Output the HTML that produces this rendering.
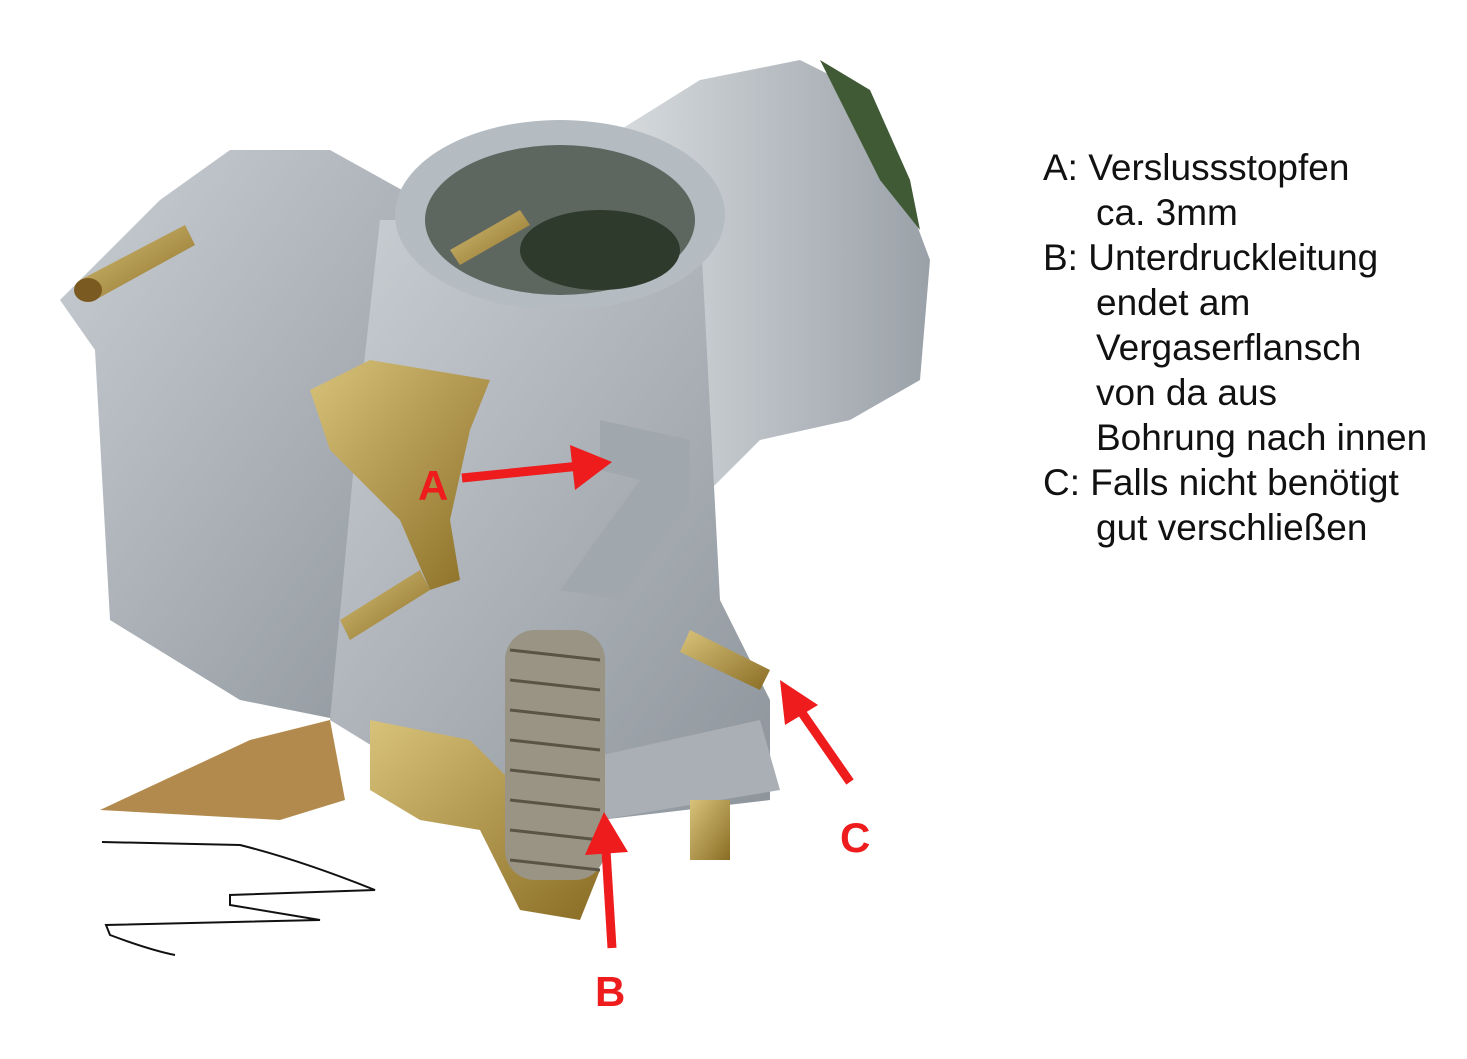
<!DOCTYPE html>
<html><head><meta charset="utf-8"><style>
html,body{margin:0;padding:0;background:#fff;}
body{width:1467px;height:1059px;position:relative;overflow:hidden;font-family:"Liberation Sans",sans-serif;}
.t{position:absolute;left:1043px;font-size:37px;color:#111;line-height:45px;top:145px;white-space:pre;}
.t div.i{padding-left:53px;}
</style></head><body>
<svg width="1467" height="1059" style="position:absolute;left:0;top:0">
<defs>
<linearGradient id="g1" x1="0" y1="0" x2="1" y2="1"><stop offset="0" stop-color="#c9ced3"/><stop offset="1" stop-color="#8d949b"/></linearGradient>
<linearGradient id="g2" x1="0" y1="0" x2="1" y2="0"><stop offset="0" stop-color="#d6dadd"/><stop offset="1" stop-color="#9aa1a8"/></linearGradient>
<linearGradient id="gold" x1="0" y1="0" x2="1" y2="1"><stop offset="0" stop-color="#d8c27a"/><stop offset="1" stop-color="#8a6d25"/></linearGradient>
</defs>
<path d="M60 300 L160 200 L230 150 L330 150 L420 200 L470 330 L460 700 L340 720 L240 700 L110 620 L95 350 Z" fill="url(#g1)"/>
<path d="M620 130 L700 80 L800 60 L860 90 L900 180 L930 260 L920 380 L850 420 L760 440 L700 500 L640 450 Z" fill="url(#g2)"/>
<path d="M820 60 L870 90 L910 180 L920 230 L880 180 Z" fill="#3f5a35"/>
<path d="M380 220 L700 220 L720 600 L770 700 L770 800 L600 820 L460 800 L330 720 L360 400 Z" fill="url(#g1)"/>
<ellipse cx="560" cy="215" rx="165" ry="95" fill="#b4bbc1"/>
<ellipse cx="560" cy="220" rx="135" ry="75" fill="#5e6660"/>
<ellipse cx="600" cy="250" rx="80" ry="40" fill="#2d3a2c"/>
<path d="M450 250 L520 210 L530 225 L460 265 Z" fill="url(#gold)"/>
<path d="M580 760 L760 720 L780 790 L600 820 Z" fill="#a9afb5"/>
<path d="M80 280 L185 225 L195 245 L95 300 Z" fill="url(#gold)"/>
<ellipse cx="88" cy="290" rx="14" ry="12" fill="#7a5a20"/>
<path d="M690 630 L770 670 L760 690 L680 652 Z" fill="url(#gold)"/>
<path d="M340 620 L420 570 L430 590 L350 640 Z" fill="url(#gold)"/>
<path d="M310 390 L370 360 L490 380 L470 430 L450 520 L460 580 L430 590 L400 520 L330 450 Z" fill="url(#gold)"/>
<path d="M370 720 L470 740 L520 790 L600 870 L580 920 L520 910 L480 830 L420 820 L370 790 Z" fill="url(#gold)"/>
<rect x="505" y="630" width="100" height="250" rx="30" fill="#9a9484"/>
<g stroke="#5a5446" stroke-width="3">
<line x1="510" y1="650" x2="600" y2="660"/><line x1="510" y1="680" x2="600" y2="690"/><line x1="510" y1="710" x2="600" y2="720"/><line x1="510" y1="740" x2="600" y2="750"/><line x1="510" y1="770" x2="600" y2="780"/><line x1="510" y1="800" x2="600" y2="810"/><line x1="510" y1="830" x2="600" y2="840"/><line x1="510" y1="860" x2="600" y2="870"/>
</g>
<path d="M600 420 L690 440 L690 500 L620 600 L560 590 L640 480 L600 470 Z" fill="#a0a7ad"/>
<path d="M100 810 L250 740 L330 720 L345 800 L280 820 Z" fill="#b28a4d"/>
<rect x="690" y="800" width="40" height="60" fill="url(#gold)"/>
<rect x="58" y="820" width="280" height="140" fill="#fff"/>
<path d="M102 842 L240 845 Q300 860 375 890 L230 895 L230 905 L320 920 L106 925 L110 935 Q150 950 175 955" fill="none" stroke="#111" stroke-width="2"/>
<g stroke="#ee1c1c" stroke-width="9" fill="#ee1c1c">
<line x1="462" y1="478" x2="580" y2="466"/>
<line x1="612" y1="948" x2="606" y2="850"/>
<line x1="850" y1="782" x2="800" y2="710"/>
</g>
<polygon points="612,462 570,445 575,490" fill="#ee1c1c"/>
<polygon points="604,812 585,855 628,852" fill="#ee1c1c"/>
<polygon points="780,680 785,725 818,705" fill="#ee1c1c"/>
<g font-family="Liberation Sans, sans-serif" font-weight="bold" font-size="42" fill="#ee1c1c">
<text x="418" y="500">A</text><text x="595" y="1006">B</text><text x="840" y="852">C</text>
</g>
</svg>
<div class="t"><div>A: Verslussstopfen</div><div class="i">ca. 3mm</div><div>B: Unterdruckleitung</div><div class="i">endet am</div><div class="i">Vergaserflansch</div><div class="i">von da aus</div><div class="i">Bohrung nach innen</div><div>C: Falls nicht benötigt</div><div class="i">gut verschließen</div></div>
</body></html>
